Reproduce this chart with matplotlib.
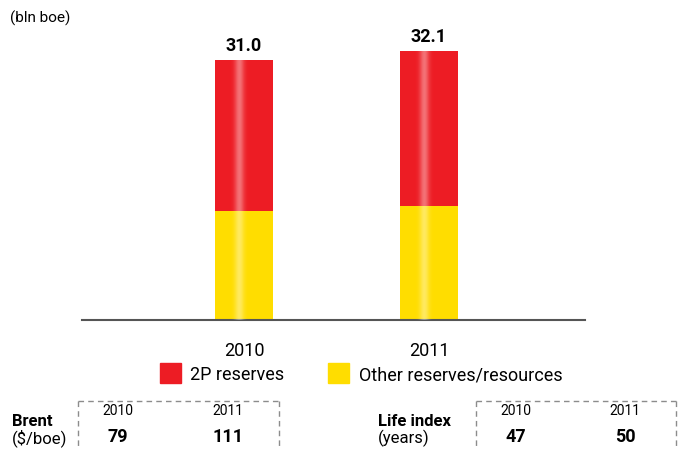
import numpy as np
import matplotlib
matplotlib.use("Agg")
import matplotlib.pyplot as plt
from matplotlib.patches import Rectangle
from matplotlib.lines import Line2D

plt.rcParams['font.family'] = ['Roboto', 'DejaVu Sans']

years = ['2010', '2011']
other_resources = [13.0, 13.6]
reserves_2p = [18.0, 18.5]
totals = ['31.0', '32.1']

brent_years = ['2010', '2011']
brent_values = ['79', '111']
life_years = ['2010', '2011']
life_values = ['47', '50']

RED = '#ed1c24'
YELLOW = '#ffdd00'

W, H = 682, 450
fig = plt.figure(figsize=(W / 100, H / 100), dpi=100)


def fx(px):
    return px / W


def fy(py):
    return 1 - py / H


ax = fig.add_axes([fx(82), fy(320), fx(585 - 82), fy(30) - fy(320)])
x = np.arange(len(years))
b1 = ax.bar(x, other_resources, width=0.3135, color=YELLOW, zorder=2)
b2 = ax.bar(x, reserves_2p, bottom=other_resources, width=0.3135, color=RED, zorder=2)

# glossy highlight stripe on every bar
g = np.linspace(0, 1, 200)
alpha = 0.38 * np.exp(-((g - 0.42) / 0.08) ** 2)
img = np.ones((1, 200, 4))
img[0, :, 3] = alpha
for patch in list(b1) + list(b2):
    x0, y0 = patch.get_x(), patch.get_y()
    w, h = patch.get_width(), patch.get_height()
    im = ax.imshow(img, extent=(x0, x0 + w, y0, y0 + h), aspect='auto', zorder=3,
                   interpolation='bilinear')
    im.set_clip_path(patch)

for xi, yo, yr, lab in zip(x, other_resources, reserves_2p, totals):
    ax.text(xi, yo + yr + 0.6, lab, ha='center', va='bottom', fontsize=13,
            fontweight='bold', color='black')

ax.set_xlim(-0.876, 1.843)
ax.set_ylim(0, 34.58)
for s in ['top', 'right', 'left']:
    ax.spines[s].set_visible(False)
ax.spines['bottom'].set_color('#555555')
ax.spines['bottom'].set_linewidth(1.5)
ax.set_yticks([])
ax.set_xticks(x)
ax.set_xticklabels(years, fontsize=13)
ax.tick_params(axis='x', length=0, pad=16)

fig.text(fx(10), fy(18), '(bln boe)', fontsize=11, va='center', ha='left')

# legend
fig.add_artist(Rectangle((fx(160), fy(383)), fx(21), fy(363) - fy(383), color=RED,
                         transform=fig.transFigure))
fig.text(fx(190), fy(375), '2P reserves', fontsize=13, va='center', ha='left')
fig.add_artist(Rectangle((fx(328), fy(383)), fx(21), fy(363) - fy(383), color=YELLOW,
                         transform=fig.transFigure))
fig.text(fx(359), fy(375), 'Other reserves/resources', fontsize=13, va='center', ha='left')


def dashed_box(left, right, top):
    kw = dict(color='#8c8c8c', linewidth=1, linestyle=(0, (4, 3)), transform=fig.transFigure)
    fig.add_artist(Line2D([fx(left), fx(right)], [fy(top), fy(top)], **kw))
    fig.add_artist(Line2D([fx(left), fx(left)], [fy(top), fy(452)], **kw))
    fig.add_artist(Line2D([fx(right), fx(right)], [fy(top), fy(452)], **kw))


# Brent table
fig.text(fx(12), fy(421), 'Brent', fontsize=12, fontweight='bold', va='center')
fig.text(fx(12), fy(438), '($/boe)', fontsize=12, va='center')
dashed_box(78, 279, 401)
for cx, yr, val in zip([118, 228], brent_years, brent_values):
    fig.text(fx(cx), fy(411), yr, fontsize=10, ha='center', va='center')
    fig.text(fx(cx), fy(437), val, fontsize=13, fontweight='bold', ha='center', va='center')

# Life index table
fig.text(fx(378), fy(421), 'Life index', fontsize=12, fontweight='bold', va='center')
fig.text(fx(378), fy(438), '(years)', fontsize=12, va='center')
dashed_box(476, 676, 401)
for cx, yr, val in zip([516, 625], life_years, life_values):
    fig.text(fx(cx), fy(411), yr, fontsize=10, ha='center', va='center')
    fig.text(fx(cx), fy(437), val, fontsize=13, fontweight='bold', ha='center', va='center')

fig.savefig('out.png', dpi=100)
